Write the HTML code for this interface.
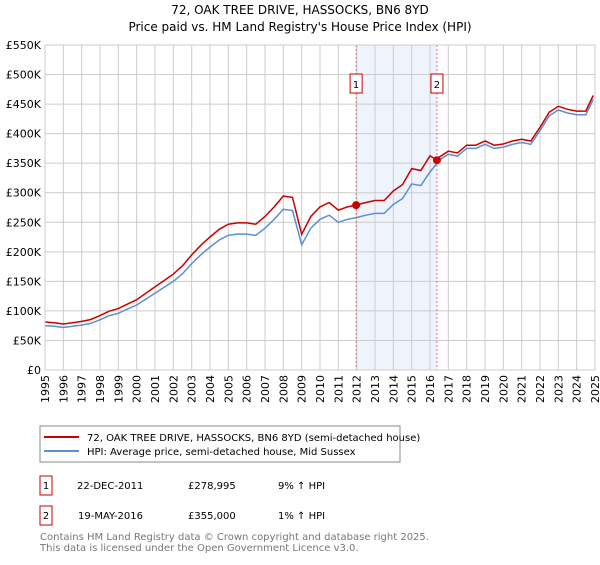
<!DOCTYPE html>
<html><head><meta charset="utf-8"><style>
body{margin:0;background:#fff;font-family:"Liberation Sans","DejaVu Sans",sans-serif;}
svg text{font-family:"DejaVu Sans","Liberation Sans",sans-serif;}
</style></head><body>
<svg id="c" width="600" height="560" xmlns="http://www.w3.org/2000/svg">
<text x="300" y="14" font-size="12" text-anchor="middle">72, OAK TREE DRIVE, HASSOCKS, BN6 8YD</text>
<text x="300" y="31" font-size="12" text-anchor="middle">Price paid vs. HM Land Registry's House Price Index (HPI)</text>
<g id="plot"></g>
<rect x="40" y="426" width="360" height="36" fill="#fff" stroke="#888"/>
<line x1="44" y1="437" x2="79" y2="437" stroke="#cc0000" stroke-width="2"/>
<text x="87" y="441" font-size="10">72, OAK TREE DRIVE, HASSOCKS, BN6 8YD (semi-detached house)</text>
<line x1="44" y1="451" x2="79" y2="451" stroke="#5b8fd0" stroke-width="2"/>
<text x="87" y="455" font-size="10">HPI: Average price, semi-detached house, Mid Sussex</text>
<g font-size="10">
<rect x="40" y="476" width="12" height="19" fill="#fff" stroke="#cc0000"/>
<text x="46" y="489" text-anchor="middle">1</text>
<text x="77" y="489">22-DEC-2011</text>
<text x="188" y="489">£278,995</text>
<text x="278" y="489">9% ↑ HPI</text>
<rect x="40" y="506" width="12" height="19" fill="#fff" stroke="#cc0000"/>
<text x="46" y="519" text-anchor="middle">2</text>
<text x="78" y="519">19-MAY-2016</text>
<text x="188" y="519">£355,000</text>
<text x="278" y="519">1% ↑ HPI</text>
</g>
<text x="40" y="540" font-size="10" fill="#777">Contains HM Land Registry data © Crown copyright and database right 2025.</text>
<text x="40" y="551" font-size="10" fill="#777">This data is licensed under the Open Government Licence v3.0.</text>
</svg>
<script>
const hpiYears=[1995,1995.5,1996,1996.5,1997,1997.5,1998,1998.5,1999,1999.5,2000,2000.5,2001,2001.5,2002,2002.5,2003,2003.5,2004,2004.5,2005,2005.5,2006,2006.5,2007,2007.5,2008,2008.5,2009,2009.5,2010,2010.5,2011,2011.5,2012,2012.5,2013,2013.5,2014,2014.5,2015,2015.5,2016,2016.38,2016.5,2017,2017.5,2018,2018.5,2019,2019.5,2020,2020.5,2021,2021.5,2022,2022.5,2023,2023.5,2024,2024.5,2024.9];
const hpiValues=[75,74,72,74,76,79,85,92,96,103,110,120,130,140,150,163,180,195,208,220,228,230,230,228,240,255,272,270,212,240,255,262,250,255,258,262,265,265,280,290,315,312,335,350,355,365,362,375,375,382,375,377,382,385,382,405,430,440,435,432,432,458];
const saleYears=[2011.97,2016.38];
const salePrices=[278995,355000];
const saleLabels=["1","2"];
const yTicks=[0,50,100,150,200,250,300,350,400,450,500,550];
const yTickLabels=["£0","£50K","£100K","£150K","£200K","£250K","£300K","£350K","£400K","£450K","£500K","£550K"];
const xTicks=[1995,1996,1997,1998,1999,2000,2001,2002,2003,2004,2005,2006,2007,2008,2009,2010,2011,2012,2013,2014,2015,2016,2017,2018,2019,2020,2021,2022,2023,2024,2025];

const L=45,R=595,T=45,B=370;
const xs=y=>L+(y-1995)/30*(R-L);
const ys=v=>B-v/550*(B-T);
const NS="http://www.w3.org/2000/svg";
const g=document.getElementById('plot');
function mk(t,a){const e=document.createElementNS(NS,t);for(const k in a)e.setAttribute(k,a[k]);g.appendChild(e);return e;}
const bg=mk('rect',{x:L,y:T,width:R-L,height:B-T,fill:'#fff'});


const sh=mk('rect',{x:xs(saleYears[0]),y:T,width:xs(saleYears[1])-xs(saleYears[0]),height:B-T,fill:'#eef3fc'});


yTicks.forEach((v,i)=>{
 const l=mk('line',{x1:L,x2:R,y1:ys(v),y2:ys(v),stroke:'#cccccc'});
 
 
 const t=mk('text',{x:L-4,y:ys(v)+4,'font-size':11,'text-anchor':'end'});
 t.textContent=yTickLabels[i];
 
 
});
xTicks.forEach(yr=>{
 const l=mk('line',{x1:xs(yr),x2:xs(yr),y1:T,y2:B,stroke:'#cccccc'});
 
 
 const t=mk('text',{x:0,y:0,'font-size':11,'text-anchor':'end',transform:`translate(${xs(yr)+4},${B+5}) rotate(-90)`});
 t.textContent=yr;
 
 
});
function hpiAt(y){for(let i=1;i<hpiYears.length;i++){if(y<=hpiYears[i]){const f=(y-hpiYears[i-1])/(hpiYears[i]-hpiYears[i-1]);return hpiValues[i-1]+f*(hpiValues[i]-hpiValues[i-1]);}}return hpiValues[hpiValues.length-1];}
const r1=salePrices[0]/1000/hpiAt(saleYears[0]), r2=salePrices[1]/1000/hpiAt(saleYears[1]);
let pb='',pr='';
hpiYears.forEach((y,i)=>{
 const v=hpiValues[i];
 pb+=(i?'L':'M')+xs(y).toFixed(1)+','+ys(v).toFixed(1);
 const rv=v*(y<saleYears[1]?r1:r2);
 pr+=(i?'L':'M')+xs(y).toFixed(1)+','+ys(rv).toFixed(1);
});
const hb=mk('path',{d:pb,fill:'none',stroke:'#5b8fd0','stroke-width':1.5});


const hr=mk('path',{d:pr,fill:'none',stroke:'#cc0000','stroke-width':1.5});


saleYears.forEach((y,i)=>{
 const d=mk('line',{x1:xs(y),x2:xs(y),y1:T,y2:B,stroke:'#e05050','stroke-dasharray':'2,2','stroke-width':0.8});
 
 
 const b=mk('rect',{x:xs(y)-6,y:74,width:12,height:19,fill:'#fff',stroke:'#cc0000'});
 
 
 const t=mk('text',{x:xs(y),y:88,'font-size':10,'text-anchor':'middle'});
 t.textContent=saleLabels[i];
 
 
 const c=mk('circle',{cx:xs(y),cy:ys(salePrices[i]/1000),r:4,fill:'#cc0000'});
 
 
});
const ax=mk('rect',{x:L,y:T,width:R-L,height:B-T,fill:'none',stroke:'#cccccc'});


</script>
</body></html>
